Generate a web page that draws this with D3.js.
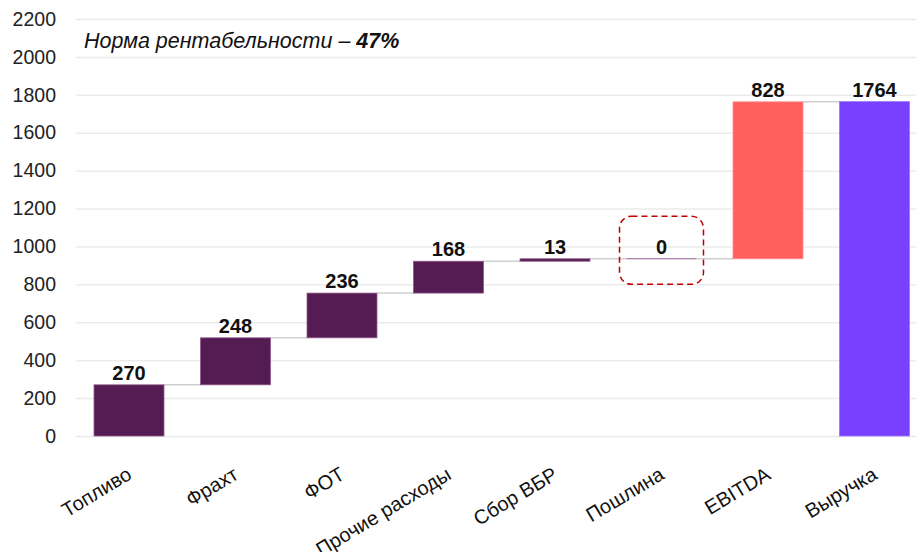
<!DOCTYPE html>
<html lang="ru">
<head>
  <meta charset="UTF-8">
  <title>Waterfall</title>
  <script src="https://cdn.jsdelivr.net/npm/d3@7"></script>
  <style>
    body { margin: 0; background: #fff; }
    text { font-family: "Liberation Sans", Arial, sans-serif; }
  </style>
</head>
<body>
<script>
  const categories = ["Топливо", "Фрахт", "ФОТ", "Прочие расходы", "Сбор ВБР", "Пошлина", "EBITDA", "Выручка"];
  const values = [270, 248, 236, 168, 13, 0, 828, 1764];
  const kinds = ["cost", "cost", "cost", "cost", "cost", "cost", "ebitda", "total"];
  const yTicks = [0, 200, 400, 600, 800, 1000, 1200, 1400, 1600, 1800, 2000, 2200];
  const noteText = "Норма рентабельности – ";
  const noteValue = "47%";
  const highlightCategory = "Пошлина";
  const highlightRange = [800, 1160];

  const colors = { cost: "#541c52", ebitda: "#ff5f5f", total: "#7a40ff" };
  const strokes = { cost: "#8e5a8c", ebitda: "#ff8a8a", total: "#9a70ff" };

  const width = 916, height = 552;

  // waterfall: each step starts where the previous one ended
  let run = 0;
  const steps = values.map((v, i) => {
    let start = run;
    if (kinds[i] === "total") start = 0;
    const end = start + v;
    run = end;
    return { cat: categories[i], value: v, kind: kinds[i], start, end };
  });

  const svg = d3.select("body").append("svg")
    .attr("width", width)
    .attr("height", height);

  const x = d3.scaleBand()
    .domain(categories)
    .range([75.75, 927.75])
    .paddingInner(0.343)
    .paddingOuter(0.1715);

  const y = d3.scaleLinear()
    .domain([0, 2200])
    .range([436, 19]);

  // grid + y labels
  const yAxis = svg.append("g")
    .attr("transform", "translate(76,0)")
    .call(d3.axisLeft(y).tickValues(yTicks).tickSize(-(width - 76)).tickPadding(20).tickFormat(d3.format("d")));
  yAxis.select(".domain").remove();
  yAxis.selectAll(".tick line").attr("stroke", "#ebebeb").attr("stroke-width", 1.5);
  yAxis.selectAll(".tick text")
    .attr("fill", "#222")
    .style("font-size", "19.5px")
    .style("font-family", "'Liberation Sans', Arial, sans-serif");

  // connectors
  svg.append("g").selectAll("line")
    .data(steps.slice(0, -1))
    .enter()
    .append("line")
    .attr("x1", d => x(d.cat) + x.bandwidth())
    .attr("x2", (d, i) => x(categories[i + 1]))
    .attr("y1", d => y(d.end))
    .attr("y2", d => y(d.end))
    .attr("stroke", "#cfcfcf")
    .attr("stroke-width", 1.5);

  // bars (zero step still shows as a thin line)
  svg.append("g").selectAll("rect")
    .data(steps)
    .enter()
    .append("rect")
    .attr("x", d => x(d.cat))
    .attr("y", d => y(Math.max(d.start, d.end)) - (d.value === 0 ? 0.5 : 0))
    .attr("width", x.bandwidth())
    .attr("height", d => Math.max(1, Math.abs(y(d.start) - y(d.end))))
    .attr("fill", d => d.value === 0 ? strokes[d.kind] : colors[d.kind])
    .attr("stroke", d => d.value === 0 ? "none" : strokes[d.kind])
    .attr("stroke-width", 0.8);

  // value labels
  svg.append("g").selectAll("text")
    .data(steps)
    .enter()
    .append("text")
    .attr("x", d => x(d.cat) + x.bandwidth() / 2)
    .attr("y", d => y(Math.max(d.start, d.end)) - 5)
    .attr("text-anchor", "middle")
    .style("font-size", "20px")
    .style("font-weight", "bold")
    .attr("fill", "#111")
    .text(d => d.value);

  // x labels
  svg.append("g").selectAll("text")
    .data(categories)
    .enter()
    .append("text")
    .attr("transform", d => `translate(${x(d) + x.bandwidth() / 2 + 4},478) rotate(-31)`)
    .attr("text-anchor", "end")
    .style("font-size", "20px")
    .attr("fill", "#111")
    .text(d => d);

  // dashed highlight box
  svg.append("rect")
    .attr("x", x(highlightCategory) - 7)
    .attr("y", y(highlightRange[1]))
    .attr("width", x.bandwidth() + 14)
    .attr("height", y(highlightRange[0]) - y(highlightRange[1]))
    .attr("rx", 12)
    .attr("fill", "none")
    .attr("stroke", "#c00000")
    .attr("stroke-width", 1.5)
    .attr("stroke-dasharray", "6,4");

  // note
  const note = svg.append("text")
    .attr("x", 84)
    .attr("y", 48)
    .style("font-size", "21.5px")
    .style("font-style", "italic")
    .attr("fill", "#111");
  note.append("tspan").text(noteText);
  note.append("tspan").style("font-weight", "bold").text(noteValue);
</script>
</body>
</html>
